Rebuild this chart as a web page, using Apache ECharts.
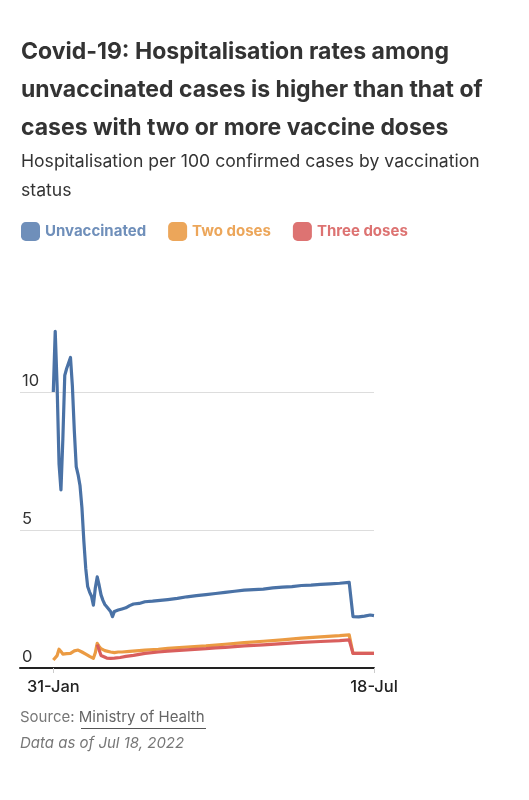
<!DOCTYPE html>
<html>
<head>
<meta charset="utf-8">
<script src="https://cdn.jsdelivr.net/npm/echarts@6/dist/echarts.min.js"></script>
<style>
  html, body { margin: 0; padding: 0; background: #fff; }
  #chart { width: 529px; height: 800px; }
</style>
</head>
<body>
<div id="chart"></div>
<script>
// 数据：按日期读取的关键点
const unvaxDates = [
    '2022-01-31', '2022-02-01', '2022-02-02', '2022-02-03', '2022-02-04', '2022-02-05', '2022-02-06',
    '2022-02-07', '2022-02-08', '2022-02-09', '2022-02-10', '2022-02-11', '2022-02-12', '2022-02-13',
    '2022-02-14', '2022-02-15', '2022-02-16', '2022-02-17', '2022-02-18', '2022-02-19', '2022-02-20',
    '2022-02-21', '2022-02-22', '2022-02-23', '2022-02-24', '2022-02-25', '2022-02-26', '2022-02-27',
    '2022-02-28', '2022-03-01', '2022-03-02', '2022-03-03', '2022-03-04', '2022-03-05', '2022-03-06',
    '2022-03-08', '2022-03-10', '2022-03-12', '2022-03-14', '2022-03-17', '2022-03-20', '2022-03-24',
    '2022-03-28', '2022-04-01', '2022-04-06', '2022-04-11', '2022-04-16', '2022-04-21', '2022-04-26',
    '2022-05-01', '2022-05-06', '2022-05-11', '2022-05-16', '2022-05-21', '2022-05-26', '2022-05-31',
    '2022-06-05', '2022-06-10', '2022-06-15', '2022-06-20', '2022-06-25', '2022-06-30', '2022-07-05',
    '2022-07-07', '2022-07-10', '2022-07-13', '2022-07-16', '2022-07-18'
];
const unvaxValues = [
    10.0, 12.2, 10.2, 7.4, 6.45, 8.3, 10.6,
    10.85, 10.8, 11.25, 10.2, 8.6, 7.3, 7.0,
    6.6, 5.8, 4.6, 3.6, 2.95, 2.75, 2.6,
    2.28, 2.9, 3.3, 3.0, 2.65, 2.45, 2.3,
    2.22, 2.18, 2.05, 1.86, 2.05, 2.08, 2.1,
    2.14, 2.18, 2.26, 2.32, 2.34, 2.4, 2.42,
    2.45, 2.48, 2.52, 2.58, 2.62, 2.66, 2.7,
    2.74, 2.78, 2.82, 2.84, 2.86, 2.9, 2.93,
    2.95, 2.99, 3.0, 3.03, 3.05, 3.07, 3.1,
    1.86, 1.85, 1.88, 1.92, 1.9
];

const twoDates = [
    '2022-01-31', '2022-02-01', '2022-02-02', '2022-02-03', '2022-02-04', '2022-02-05', '2022-02-06',
    '2022-02-07', '2022-02-08', '2022-02-09', '2022-02-10', '2022-02-11', '2022-02-12', '2022-02-13',
    '2022-02-14', '2022-02-15', '2022-02-16', '2022-02-17', '2022-02-18', '2022-02-19', '2022-02-20',
    '2022-02-21', '2022-02-22', '2022-02-23', '2022-02-24', '2022-02-25', '2022-02-26', '2022-02-27',
    '2022-02-28', '2022-03-02', '2022-03-04', '2022-03-06', '2022-03-08', '2022-03-12', '2022-03-17',
    '2022-03-20', '2022-03-27', '2022-04-01', '2022-04-11', '2022-04-21', '2022-04-26', '2022-05-01',
    '2022-05-11', '2022-05-21', '2022-05-31', '2022-06-10', '2022-06-20', '2022-06-30', '2022-07-05',
    '2022-07-07', '2022-07-18'
];
const twoValues = [
    0.29, 0.31, 0.45, 0.68, 0.6, 0.5, 0.47,
    0.52, 0.56, 0.53, 0.58, 0.62, 0.6, 0.65,
    0.62, 0.58, 0.55, 0.5, 0.45, 0.42, 0.38,
    0.35, 0.55, 0.89, 0.78, 0.7, 0.66, 0.63,
    0.6, 0.58, 0.56, 0.58, 0.58, 0.6, 0.63,
    0.65, 0.68, 0.71, 0.76, 0.8, 0.83, 0.86,
    0.92, 0.97, 1.02, 1.08, 1.13, 1.17, 1.2,
    0.53, 0.53
];

const threeDates = [
    '2022-02-23', '2022-02-24', '2022-02-25', '2022-02-26', '2022-02-28', '2022-03-02', '2022-03-04',
    '2022-03-07', '2022-03-10', '2022-03-14', '2022-03-20', '2022-03-27', '2022-04-01', '2022-04-11',
    '2022-04-21', '2022-04-26', '2022-05-01', '2022-05-11', '2022-05-21', '2022-05-31', '2022-06-10',
    '2022-06-20', '2022-06-30', '2022-07-05', '2022-07-07', '2022-07-18'
];
const threeValues = [
    0.85, 0.65, 0.45, 0.4, 0.36, 0.35, 0.36,
    0.38, 0.42, 0.46, 0.53, 0.58, 0.61, 0.66,
    0.7, 0.73, 0.75, 0.8, 0.84, 0.88, 0.93,
    0.96, 0.99, 1.02, 0.53, 0.53
];

const seriesNames = ['Unvaccinated', 'Two doses', 'Three doses'];
const lineColors = ['#4a72a6', '#eb9b43', '#d95f5d'];
const legendColors = ['#6f8fba', '#eca65a', '#dd7372'];
const xLabelDates = ['2022-01-31', '2022-07-18'];

const DAY = 86400000;
const toTime = d => echarts.time.parse(d).getTime();
const pairs = (dates, values) => dates.map((d, i) => [toTime(d), values[i]]);
const labelValues = xLabelDates.map(toTime);
const firstDay = labelValues[0];
const lastDay = labelValues[1];

const myChart = echarts.init(document.getElementById('chart'));
const font = 'Inter, "Noto Sans", sans-serif';

const option = {
    animation: false,
    textStyle: {fontFamily: font},
    title: [
        {
            text: 'Covid-19: Hospitalisation rates among\nunvaccinated cases is higher than that of\ncases with two or more vaccine doses',
            left: 16,
            top: 28,
            textStyle: {fontSize: 23, fontWeight: 'bold', color: '#333', lineHeight: 38, fontFamily: font}
        },
        {
            text: 'Hospitalisation per 100 confirmed cases by vaccination\nstatus',
            left: 16,
            top: 142,
            textStyle: {fontSize: 17.6, fontWeight: 'normal', color: '#333', lineHeight: 29, fontFamily: font}
        }
    ],
    legend: {
        left: 16,
        top: 217,
        icon: 'roundRect',
        itemWidth: 19,
        itemHeight: 19,
        itemGap: 22,
        textStyle: {fontSize: 15, fontWeight: 'bold', fontFamily: font},
        data: seriesNames.map((n, i) => ({
            name: n,
            itemStyle: {color: legendColors[i]},
            textStyle: {color: legendColors[i]}
        }))
    },
    grid: {
        left: 20,
        right: 155,
        top: 392,
        bottom: 132
    },
    xAxis: {
        type: 'value',
        min: firstDay - 17.45 * DAY,
        max: lastDay,
        splitLine: {show: false},
        axisLine: {show: true, lineStyle: {color: '#222', width: 2}},
        axisTick: {show: true, customValues: labelValues, length: 5, lineStyle: {color: '#ccc'}},
        axisLabel: {
            customValues: labelValues,
            formatter: v => echarts.time.format(v, '{dd}-{MMM}', false),
            fontSize: 16.5,
            fontWeight: 500,
            color: '#222',
            margin: 11
        }
    },
    yAxis: {
        type: 'value',
        min: 0,
        max: 10,
        interval: 5,
        axisLine: {show: false},
        axisTick: {show: false},
        splitLine: {lineStyle: {color: '#ddd', width: 1}},
        axisLabel: {
            inside: true,
            margin: 2,
            verticalAlign: 'bottom',
            padding: [0, 0, 2, 0],
            fontSize: 16.5,
            color: '#333'
        }
    },
    series: [
        [unvaxDates, unvaxValues],
        [twoDates, twoValues],
        [threeDates, threeValues]
    ].map((s, i) => ({
        name: seriesNames[i],
        type: 'line',
        data: pairs(s[0], s[1]),
        showSymbol: false,
        clip: false,
        color: lineColors[i],
        lineStyle: {width: 3.2, color: lineColors[i], join: 'round'}
    })),
    graphic: [
        {
            type: 'text',
            left: 20,
            top: 710,
            style: {
                text: '{a|Source: }{b|Ministry of Health}',
                rich: {
                    a: {fontSize: 15, fill: '#777', fontFamily: font},
                    b: {fontSize: 15, fill: '#666', fontFamily: font}
                }
            }
        },
        {
            type: 'line',
            shape: {x1: 81, y1: 728.5, x2: 206, y2: 728.5},
            style: {stroke: '#555', lineWidth: 1}
        },
        {
            type: 'text',
            left: 20,
            top: 736,
            style: {text: 'Data as of Jul 18, 2022', fontSize: 15, fontStyle: 'italic', fill: '#777', fontFamily: font}
        }
    ]
};

myChart.setOption(option);
</script>
</body>
</html>
